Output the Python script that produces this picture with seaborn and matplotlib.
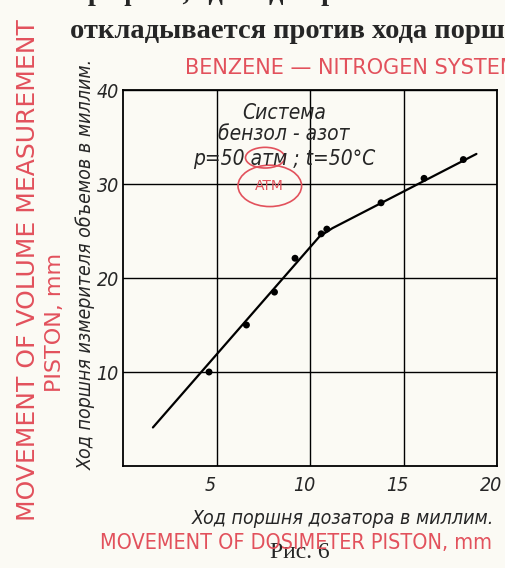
import matplotlib
matplotlib.use("Agg")
import matplotlib.pyplot as plt
import matplotlib.transforms as mtrans
from matplotlib.patches import Ellipse
import seaborn as sns
import pandas as pd

# measured points (piston of dosimeter vs volume meter piston, mm)
dose_x = [4.6, 6.6, 8.1, 9.2, 10.6, 10.9, 13.8, 16.1, 18.2]
meter_y = [10.0, 15.0, 18.5, 22.1, 24.7, 25.2, 28.0, 30.6, 32.6]

# drawn fitted line
line_x = [1.6, 10.5, 11.2, 18.9]
line_y = [4.1, 24.4, 25.3, 33.2]

x_ticks = [5, 10, 15, 20]
y_ticks = [10, 20, 30, 40]

RED = "#e2515c"
PAPER = "#fbfaf4"
SERIF = ["Liberation Serif", "DejaVu Serif"]

sns.set_style("white")
plt.rcParams["font.family"] = ["DejaVu Sans"]
plt.rcParams["font.stretch"] = "condensed"

fig = plt.figure(figsize=(5.05, 5.68), dpi=100, facecolor=PAPER)
ax = fig.add_axes([123 / 505, (568 - 466) / 568, 374 / 505, 376 / 568])
ax.set_facecolor(PAPER)

pts = pd.DataFrame({"x": dose_x, "y": meter_y})
fit = pd.DataFrame({"x": line_x, "y": line_y})
sns.lineplot(data=fit, x="x", y="y", color="black", lw=1.6, ax=ax, sort=False)
sns.scatterplot(data=pts, x="x", y="y", color="black", s=25, edgecolor="none", ax=ax, zorder=5)

ax.set_xlim(0, 20)
ax.set_ylim(0, 40)
ax.set_xticks(x_ticks)
ax.set_yticks(y_ticks)
ax.grid(True, color="black", lw=1.0)
ax.tick_params(length=0, labelsize=14, pad=3)
ax.tick_params(axis="x", pad=7)
# italic labels in the print sit a little left of their grid lines
shift = mtrans.ScaledTranslation(-6 / 100, 0, fig.dpi_scale_trans)
for lab in ax.get_xticklabels():
    lab.set_transform(lab.get_transform() + shift)
for lab in ax.get_xticklabels() + ax.get_yticklabels():
    lab.set_style("italic")
    lab.set_stretch("condensed")
for s in ax.spines.values():
    s.set_color("black")
    s.set_linewidth(1.3)
ax.set_xlabel("")
ax.set_ylabel("")

# printed captions
fig.text(343 / 505, 1 - 518 / 568, "Ход поршня дозатора в миллим.", ha="center", va="center",
         fontsize=14, style="italic", stretch="condensed")
fig.text(86 / 505, 1 - 264 / 568, "Ход поршня измерителя объемов в миллим.", ha="center",
         va="center", rotation=90, fontsize=14, style="italic", stretch="condensed")
fig.text(300 / 505, 1 - 553 / 568, "Рис. 6", ha="center", va="center", fontsize=17, family=SERIF)
fig.text(70 / 505, 1 - 31 / 568, "откладывается против хода порш", ha="left", va="center",
         fontsize=20.5, weight="bold", family=SERIF)
fig.text(75 / 505, 1 + 6 / 568, "графике, где ход поршня", ha="left", va="center",
         fontsize=20.5, weight="bold", family=SERIF)

ax.text(8.6, 37.6, "Система", ha="center", va="center", fontsize=15, style="italic")
ax.text(8.6, 35.3, "бензол - азот", ha="center", va="center", fontsize=15, style="italic")
ax.text(8.6, 32.7, "p=50 атм ; t=50°C", ha="center", va="center", fontsize=15, style="italic")

# handwritten red notes
ax.text(7.85, 29.8, "ATM", ha="center", va="center", fontsize=10, color=RED, stretch="normal")
ax.add_patch(Ellipse((7.85, 29.8), 3.4, 4.4, fill=False, ec=RED, lw=1.2))
ax.add_patch(Ellipse((7.6, 32.8), 2.1, 2.2, fill=False, ec=RED, lw=1.2))
fig.text(185 / 505, 1 - 68 / 568, "BENZENE — NITROGEN SYSTEM", ha="left", va="center",
         fontsize=15, color=RED, stretch="normal")
fig.text(100 / 505, 1 - 543 / 568, "MOVEMENT OF DOSIMETER PISTON, mm", ha="left", va="center",
         fontsize=15.5, color=RED)
fig.text(28 / 505, 1 - 270 / 568, "MOVEMENT OF VOLUME MEASUREMENT", ha="center", va="center",
         rotation=90, fontsize=18, color=RED, stretch="normal")
fig.text(55 / 505, 1 - 322 / 568, "PISTON, mm", ha="center", va="center",
         rotation=90, fontsize=16, color=RED, stretch="normal")

fig.savefig("out.png", dpi=100, facecolor=PAPER)
